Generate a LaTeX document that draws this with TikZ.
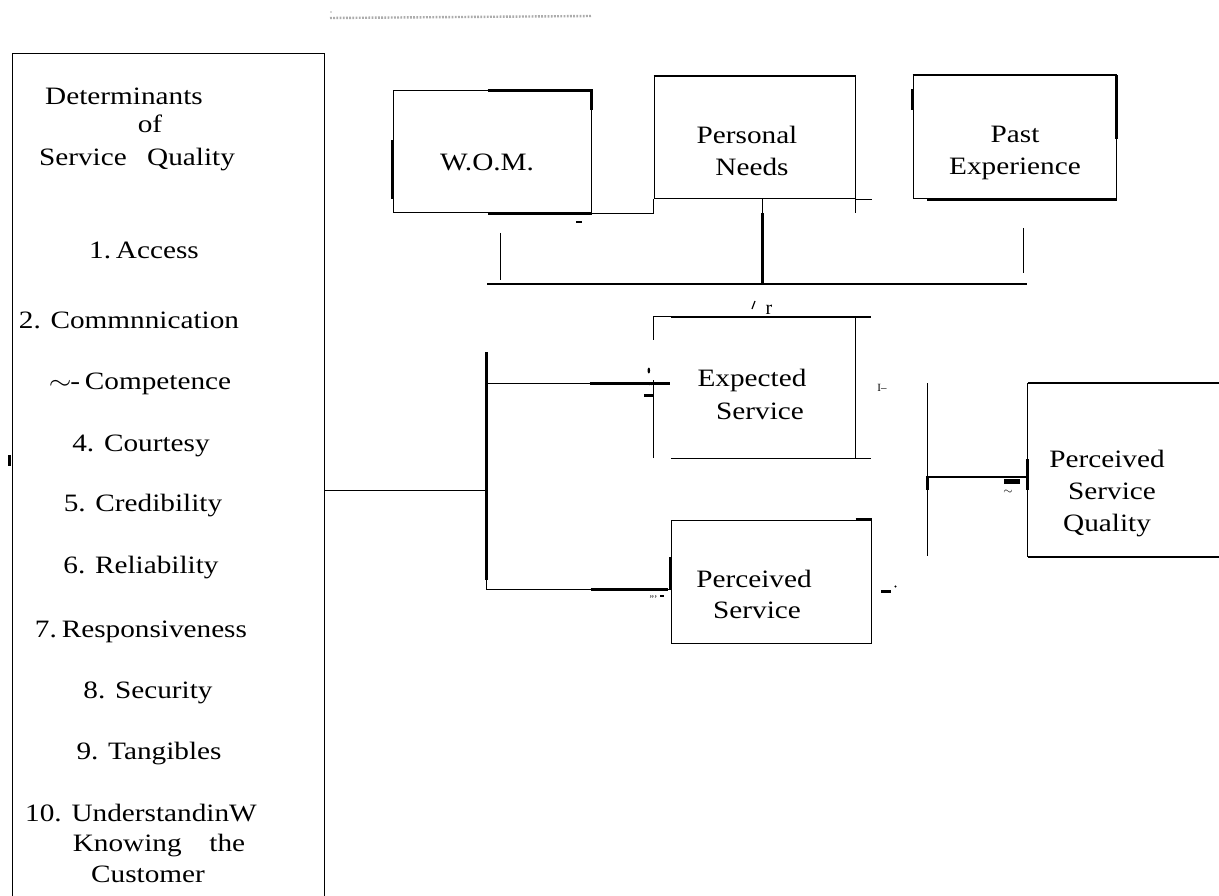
\documentclass[tikz,border=0pt]{standalone}
\usepackage{fontspec}
\usepackage{graphicx}
\setmainfont{Liberation Serif}
\newcommand{\sx}[1]{\scalebox{1.17}[1]{#1}}
\usetikzlibrary{calc}
\begin{document}
\begin{tikzpicture}[x=1pt,y=-1pt,
  box/.style={draw,line width=1pt,inner sep=0pt},
  hid/.style={inner sep=0pt},
  txt/.style={inner sep=0pt,anchor=base,font=\fontsize{25}{30}\selectfont},
  noise/.style={inner sep=0pt,anchor=base,font=\fontsize{15}{16}\selectfont},
  thinl/.style={line width=1pt},
  midl/.style={line width=2pt},
  heavy/.style={line width=3pt}]
\clip (0,0) rectangle (1219,896);
\fill[white] (0,0) rectangle (1219,896);

% dotted scan line at top
\draw[gray!65,line width=2.4pt,dash pattern=on 1.8pt off 1.4pt] (330,18) -- (592,16);
\fill[gray!60] (331,12) circle (0.8pt);

% ---------- left box ----------
\node[box,minimum width=312pt,minimum height=872pt] (det) at (168,490) {};
\draw[heavy] ($(det.west)+(-2,-35)$) -- ++(0,11);
\node[txt] (d1) at (124,105) {\sx{Determinants}};
\node[txt] (d2) at (150,133) {\sx{of}};
\node[txt] (d3) at (137,166) {\sx{Service\hspace{0.45em} Quality}};
\node[txt] (i1) at (144,259) {\sx{1.\,Access}};
\node[txt] (i2) at (129,328) {\sx{2. Commnnication}};
\node[txt] (i3) at (140,389) {\sx{$\sim$\kern-1pt-\,Competence}};
\node[txt] (i4) at (141,451) {\sx{4. Courtesy}};
\node[txt] (i5) at (143,511) {\sx{5. Credibility}};
\node[txt] (i6) at (141,573) {\sx{6. Reliability}};
\node[txt] (i7) at (141,637) {\sx{7.\,Responsiveness}};
\node[txt] (i8) at (148,698) {\sx{8. Security}};
\node[txt] (i9) at (149,759) {\sx{9. Tangibles}};
\node[txt] (i10) at (141,821) {\sx{10. UnderstandinW}};
\node[txt] (i10b) at (159,851) {\sx{Knowing\hspace{0.7em} the}};
\node[txt] (i10c) at (148,882) {\sx{Customer}};

% ---------- top boxes ----------
\node[box,minimum width=198pt,minimum height=122pt] (wom) at (492,152) {};
\node[txt] (womt) at (487,171) {\sx{W.O.M.}};
\draw[heavy] ($(wom.north east)+(-104,0)$) -- (wom.north east) -- ++(0,20);
\draw[heavy] ($(wom.west)+(0,-12)$) -- ($(wom.west)+(0,47)$);
\draw[heavy] ($(wom.south east)+(-104,0)$) -- (wom.south east);
\fill ($(wom.south east)+(-16,8)$) rectangle ++(6,2);

\node[box,minimum width=201pt,minimum height=122pt] (pn) at (754.5,138) {};
\node[txt] (pnt1) at (747,144) {\sx{Personal}};
\node[txt] (pnt2) at (752,176) {\sx{Needs}};
\draw[midl] (pn.north west) -- (pn.north east);
\draw[thinl] (wom.south east) -| (pn.south west);
\draw[thinl] (pn.south east) -- ++(16,0);
\draw[thinl] (pn.south east) -- ++(0,14);

\node[box,minimum width=203pt,minimum height=123pt] (past) at (1014.5,137.5) {};
\node[txt] (pastt1) at (1015,143) {\sx{Past}};
\node[txt] (pastt2) at (1015,175) {\sx{Experience}};
\draw[midl] (past.north west) -- (past.north east);
\draw[heavy] ($(past.north west)+(0,14)$) -- ++(0,21);
\draw[heavy] (past.north east) -- ++(0,64);
\draw[heavy] ($(past.south west)+(14,0)$) -- (past.south east);

% joining bar
\coordinate (bar) at (762,284);
\coordinate (barL) at (487,284);
\coordinate (barR) at (1027,284);
\coordinate (tL1) at (500,233);
\coordinate (tL2) at (500,280);
\coordinate (tR1) at (1023,228);
\coordinate (tR2) at (1023,273);
\draw[thinl] ($(pn.south)+(7.5,0)$) -- (bar);
\draw[heavy] ($(pn.south)+(7.5,14)$) -- (bar);
\draw[midl] (barL) -- (barR);
\draw[thinl] (tL1) -- (tL2);
\draw[thinl] (tR1) -- (tR2);

% ---------- expected service ----------
\node[hid,minimum width=201pt,minimum height=141pt] (exp) at (754.5,387.5) {};
\draw[thinl] ($(exp.north west)+(0,23)$) -- (exp.north west) -- (exp.north east);
\draw[midl] ($(exp.north west)+(17,0)$) -- ($(exp.north east)+(16,0)$);
\draw[thinl] (exp.north east) -- (exp.south east);
\draw[thinl] ($(exp.south west)+(17,0)$) -- ($(exp.south east)+(16,0)$);
\draw[thinl] (exp.south west) -- ++(0,-78);
\node[txt] (expt1) at (752,386) {\sx{Expected}};
\node[txt] (expt2) at (760,419) {\sx{Service}};
\node[noise,font=\fontsize{20}{20}\selectfont] (nr) at (769,314) {r};
\draw[line width=1.2pt] (755,301) -- (752,309);
\node[noise,font=\fontsize{11}{12}\selectfont] (ni) at (882,391) {I--};

% ---------- perceived service ----------
\node[box,minimum width=200pt,minimum height=123pt] (perc) at (771,581.5) {};
\node[txt] (perct1) at (754,587) {\sx{Perceived}};
\node[txt] (perct2) at (757,618) {\sx{Service}};
\draw[heavy] ($(perc.north east)+(-16,0)$) -- (perc.north east);
\draw[heavy] ($(perc.west)+(0,-25)$) -- ($(perc.west)+(0,7.5)$);
\fill ($(perc.east)+(9,8)$) rectangle ++(10,3);
\fill ($(perc.east)+(24,5)$) circle (1.2pt);

% ---------- connectors from the determinants ----------
\coordinate (j1) at (486,490);
\draw[thinl] (det.east) -- (j1);
\draw[thinl] (j1) |- ($(exp.west)+(16,-4.5)$);
\draw[heavy] ($(exp.west)+(-64,-4.5)$) -- ($(exp.west)+(16,-4.5)$);
\draw[heavy] ($(j1)+(0,-138)$) -- ($(j1)+(0,90)$);
\draw[thinl] (j1) |- ($(perc.west)+(0,7.5)$);
\draw[heavy] ($(perc.west)+(-80,7.5)$) -- ($(perc.west)+(-3,7.5)$);
% scan marks near the connectors
\fill ($(exp.west)+(-5,-17)$) ellipse (1.3pt and 3pt);
\fill ($(exp.west)+(-10,6)$) rectangle ++(10,3.5);
\node[noise,font=\fontsize{9}{10}\selectfont] (nq) at ($(exp.west)+(-3,2)$) {''};
\node[noise,font=\fontsize{10}{10}\selectfont] (nd) at ($(perc.west)+(-17,21)$) {'''};
\fill ($(perc.west)+(-11,13)$) rectangle ++(4,2);

% ---------- perceived service quality ----------
\node[hid,minimum width=200pt,minimum height=174pt] (psq) at (1128,470) {};
\draw[midl] (psq.north east) -- (psq.north west);
\draw[thinl] (psq.north west) -- (psq.south west);
\draw[midl] (psq.south west) -- (psq.south east);
\draw[heavy] ($(psq.west)+(0,-11)$) -- ($(psq.west)+(0,20)$);
\node[txt] (psqt1) at (1107,467) {\sx{Perceived}};
\node[txt] (psqt2) at (1112,499) {\sx{Service}};
\node[txt] (psqt3) at (1107,531) {\sx{Quality}};
\coordinate (qt) at (927,383);
\coordinate (qb) at (927,556);
\coordinate (qj) at (927,477);
\draw[thinl] (qt) -- (qb);
\draw[midl] (qj) -- (qj -| psq.west);
\draw[heavy] ($(qj)+(0,-1)$) -- ($(qj)+(0,13)$);
\fill (1004,479) rectangle (1020,484);
\node[noise,font=\fontsize{12}{12}\selectfont] (nt) at (1008,494) {$\sim$};
\end{tikzpicture}
\end{document}
